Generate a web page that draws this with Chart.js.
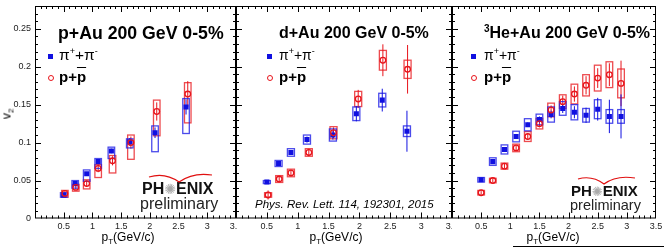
<!DOCTYPE html>
<html lang="en">
<head>
<meta charset="UTF-8">
<title>Identified hadron v2 in small systems</title>
<script src="https://cdn.jsdelivr.net/npm/chart.js@4"></script>
<style>
    body { margin: 0; background: #fff; font-family: "Liberation Sans", Arial, Helvetica, sans-serif; }
    #wrap { position: relative; width: 664px; height: 248px; overflow: hidden; background: #fff; }
    canvas { position: absolute; top: 0; }
    .txt { position: absolute; white-space: nowrap; line-height: 1; color: #000; }
    .title { font-weight: bold; font-size: 16px; top: 25px; }
    .leg1 { font-size: 14px; top: 48px; }
    .leg2 { font-size: 15px; font-weight: bold; top: 69px; }
    .sup { font-size: 9px; position: relative; top: -6px; }
    .sq { position: absolute; width: 5px; height: 5px; background: #1010e0; top: 54px; }
    .circ { position: absolute; width: 4px; height: 4px; border: 1.2px solid #e8141b; border-radius: 50%; top: 75px; }
    .bar { text-decoration: overline; }
    .phenix { font-weight: bold; font-size: 16px; color: #111; }
    .star { font-weight: normal; color: #aaa; font-size: 14px; font-family: "DejaVu Sans", sans-serif; }
    .prelim { font-size: 16px; color: #222; }
    .xtitle { font-size: 12px; top: 231px; transform: translateX(-50%); }
    .sub { font-size: 8px; position: relative; top: 3px; }
</style>
</head>
<body>
<div id="wrap">
    <canvas id="pAu" width="237" height="248" style="left:0"></canvas>
    <canvas id="dAu" width="216" height="248" style="left:236px"></canvas>
    <canvas id="heAu" width="212" height="248" style="left:452px"></canvas>

    <div class="txt" style="left:6px; top:114px; font-size:13px; transform:translate(-50%,-50%) rotate(-90deg);">v<span class="sub">2</span></div>

    <!-- p+Au -->
    <div class="txt title" style="left:58px; font-size:17.7px">p+Au 200 GeV 0-5%</div>
    <div class="sq" style="left:48px"></div>
    <div class="txt leg1" style="left:59px; font-size:15.5px; top:47px">&pi;<span class="sup">+</span>+&pi;<span class="sup">-</span></div>
    <div class="circ" style="left:48px"></div>
    <div class="txt leg2" style="left:59px">p+<span class="bar">p</span></div>
    <div class="txt phenix" style="left:142px; top:181px">PH<span class="star">&#x273A;</span>ENIX</div>
    <div class="txt prelim" style="left:140px; top:196px">preliminary</div>
    <div class="txt xtitle" style="left:128px">p<span class="sub">T</span>(GeV/c)</div>

    <!-- d+Au -->
    <div class="txt title" style="left:279px">d+Au 200 GeV 0-5%</div>
    <div class="sq" style="left:267px"></div>
    <div class="txt leg1" style="left:279px">&pi;<span class="sup">+</span>+&pi;<span class="sup">-</span></div>
    <div class="circ" style="left:267px"></div>
    <div class="txt leg2" style="left:279px">p+<span class="bar">p</span></div>
    <div class="txt" style="left:255px; top:199px; font-size:11.5px; font-style:italic;">Phys. Rev. Lett. 114, 192301, 2015</div>
    <div class="txt xtitle" style="left:336px">p<span class="sub">T</span>(GeV/c)</div>

    <!-- 3He+Au -->
    <div class="txt title" style="left:484px"><span class="sup" style="font-size:10px">3</span>He+Au 200 GeV 0-5%</div>
    <div class="sq" style="left:471px"></div>
    <div class="txt leg1" style="left:484px">&pi;<span class="sup">+</span>+&pi;<span class="sup">-</span></div>
    <div class="circ" style="left:471px"></div>
    <div class="txt leg2" style="left:484px">p+<span class="bar">p</span></div>
    <div class="txt phenix" style="left:571px; top:183px; font-size:15px">PH<span class="star" style="font-size:13px">&#x273A;</span>ENIX</div>
    <div class="txt prelim" style="left:570px; top:198px; font-size:14.5px">preliminary</div>
    <div class="txt xtitle" style="left:553px">p<span class="sub">T</span>(GeV/c)</div>

    <svg width="664" height="248" style="position:absolute; left:0; top:0; pointer-events:none">
        <path d="M149 177 Q165 172 179 182 Q193 172 212 175" fill="none" stroke="#e01010" stroke-width="1.2"/>
        <path d="M578 179 Q592 175 604 184 Q616 175 635 178" fill="none" stroke="#e01010" stroke-width="1.2"/>
        <line x1="513" y1="246.5" x2="664" y2="246.5" stroke="#000" stroke-width="1"/>
    </svg>
</div>

<script>
    // ---- values ----
    // p+Au 0-5%
    const pAuPionPt    = [0.50, 0.70, 0.90, 1.10, 1.33, 1.65, 2.09, 2.63];
    const pAuPionV2    = [0.031, 0.046, 0.059, 0.075, 0.089, 0.101, 0.113, 0.147];
    const pAuPionStat  = [0.002, 0.002, 0.002, 0.003, 0.003, 0.005, 0.007, 0.010];
    const pAuPionSysUp = [0.003, 0.004, 0.005, 0.004, 0.005, 0.004, 0.009, 0.011];
    const pAuPionSysDn = [0.003, 0.006, 0.010, 0.009, 0.010, 0.008, 0.025, 0.035];
    const pAuProtPt    = [0.52, 0.71, 0.90, 1.10, 1.35, 1.67, 2.12, 2.66];
    const pAuProtV2    = [0.033, 0.041, 0.046, 0.066, 0.076, 0.100, 0.141, 0.164];
    const pAuProtStat  = [0.003, 0.003, 0.004, 0.005, 0.006, 0.008, 0.012, 0.017];
    const pAuProtSysUp = [0.004, 0.004, 0.005, 0.005, 0.007, 0.010, 0.015, 0.015];
    const pAuProtSysDn = [0.005, 0.005, 0.007, 0.012, 0.016, 0.022, 0.032, 0.038];

    // d+Au 0-5%
    const dAuPionPt   = [0.50, 0.69, 0.89, 1.15, 1.57, 1.95, 2.37, 2.77];
    const dAuPionV2   = [0.048, 0.0725, 0.087, 0.104, 0.110, 0.138, 0.156, 0.115];
    const dAuPionStat = [0.001, 0.002, 0.003, 0.004, 0.006, 0.010, 0.015, 0.027];
    const dAuPionSys  = [0.002, 0.004, 0.005, 0.006, 0.008, 0.009, 0.009, 0.007];
    const dAuProtPt   = [0.52, 0.70, 0.89, 1.18, 1.58, 1.98, 2.38, 2.78];
    const dAuProtV2   = [0.031, 0.052, 0.060, 0.087, 0.113, 0.1575, 0.2085, 0.1966];
    const dAuProtStat = [0.006, 0.004, 0.004, 0.005, 0.007, 0.012, 0.021, 0.032];
    const dAuProtSys  = [0.003, 0.0045, 0.005, 0.005, 0.008, 0.010, 0.013, 0.012];

    // 3He+Au 0-5%
    const heAuPt       = [0.5, 0.7, 0.9, 1.1, 1.3, 1.5, 1.7, 1.9, 2.1, 2.3, 2.5, 2.7, 2.9];
    const heAuPionV2   = [0.051, 0.075, 0.091, 0.108, 0.1235, 0.1305, 0.137, 0.145, 0.140, 0.136, 0.144, 0.1345, 0.1345];
    const heAuPionStat = [0.001, 0.001, 0.002, 0.002, 0.003, 0.004, 0.005, 0.006, 0.008, 0.010, 0.015, 0.022, 0.029];
    const heAuPionSys  = [0.003, 0.005, 0.006, 0.007, 0.008, 0.007, 0.010, 0.009, 0.010, 0.009, 0.0125, 0.009, 0.009];
    const heAuProtV2   = [0.034, 0.050, 0.069, 0.093, 0.108, 0.125, 0.143, 0.154, 0.164, 0.1755, 0.185, 0.1895, 0.178];
    const heAuProtStat = [0.002, 0.002, 0.003, 0.003, 0.004, 0.005, 0.006, 0.008, 0.010, 0.012, 0.013, 0.015, 0.030];
    const heAuProtSys  = [0.003, 0.003, 0.004, 0.005, 0.0065, 0.007, 0.009, 0.009, 0.013, 0.014, 0.017, 0.017, 0.019];

    const FONT = '"Liberation Sans", Arial, Helvetica, sans-serif';
    const BLUE = '#1010e0';
    const RED = '#e8141b';
    const BLUE_BOX = 'rgba(30, 30, 230, 0.8)';
    const RED_BOX = 'rgba(232, 30, 35, 0.8)';
    const BOX_HALF = 0.057;  // half width of the systematic boxes, in GeV/c

    function points(pt, v2, stat, up, dn) {
        return pt.map((x, i) => ({ x: x, y: v2[i], stat: stat[i], up: up[i], dn: dn[i] }));
    }

    // systematic boxes + statistical bars, drawn under the markers
    const errorPlugin = {
        id: 'errors',
        beforeDatasetsDraw(chart) {
            const { ctx, scales: { x, y } } = chart;
            ctx.save();
            chart.data.datasets.forEach(ds => {
                ds.data.forEach(p => {
                    const px = x.getPixelForValue(p.x);
                    const hw = x.getPixelForValue(p.x + BOX_HALF) - px;
                    const top = y.getPixelForValue(p.y + p.up);
                    const bot = y.getPixelForValue(p.y - p.dn);
                    ctx.strokeStyle = ds.boxColor;
                    ctx.lineWidth = 1.3;
                    ctx.strokeRect(px - hw, top, hw * 2, bot - top);
                    ctx.strokeStyle = ds.pointBorderColor;
                    ctx.lineWidth = 1;
                    ctx.beginPath();
                    ctx.moveTo(px, y.getPixelForValue(p.y + p.stat));
                    ctx.lineTo(px, y.getPixelForValue(p.y - p.stat));
                    ctx.stroke();
                });
            });
            ctx.restore();
        }
    };

    // ROOT-like frame with ticks pointing inwards
    const framePlugin = {
        id: 'frame',
        afterDraw(chart) {
            const { ctx, chartArea: a, scales: { x, y } } = chart;
            ctx.save();
            ctx.strokeStyle = '#000';
            ctx.lineWidth = 1;
            ctx.strokeRect(a.left + 0.5, a.top + 0.5, a.right - a.left - 1, a.bottom - a.top - 1);
            ctx.beginPath();
            for (let i = 1; i < 35; i++) {
                const px = Math.round(x.getPixelForValue(i / 10)) + 0.5;
                const len = i % 5 === 0 ? 6 : 3;
                ctx.moveTo(px, a.bottom); ctx.lineTo(px, a.bottom - len);
                ctx.moveTo(px, a.top); ctx.lineTo(px, a.top + len);
            }
            for (let j = 1; j < 28; j++) {
                const py = Math.round(y.getPixelForValue(j / 100)) + 0.5;
                const len = j % 5 === 0 ? 6 : 3;
                ctx.moveTo(a.left, py); ctx.lineTo(a.left + len, py);
                ctx.moveTo(a.right, py); ctx.lineTo(a.right - len, py);
            }
            ctx.stroke();
            ctx.restore();
        }
    };

    function makePanel(id, pions, protons, showY, yWidth, padRight) {
        return new Chart(document.getElementById(id), {
            type: 'scatter',
            data: {
                datasets: [
                    {
                        label: 'p+pbar', data: protons, pointStyle: 'circle', pointRadius: 2.8,
                        pointBorderWidth: 1.3, pointBorderColor: RED, pointBackgroundColor: 'rgba(0,0,0,0)',
                        boxColor: RED_BOX
                    },
                    {
                        label: 'pi++pi-', data: pions, pointStyle: 'rect', pointRadius: 3.6,
                        pointBorderWidth: 0, pointBorderColor: BLUE, pointBackgroundColor: BLUE,
                        boxColor: BLUE_BOX
                    }
                ]
            },
            options: {
                responsive: false,
                animation: false,
                devicePixelRatio: 1,
                layout: { autoPadding: false, padding: { top: 6, right: padRight, left: 0, bottom: 0 } },
                plugins: { legend: { display: false }, tooltip: { enabled: false } },
                scales: {
                    x: {
                        type: 'linear', min: 0, max: 3.5,
                        grid: { display: false, drawTicks: false },
                        border: { display: false },
                        ticks: {
                            stepSize: 0.5, autoSkip: false, maxRotation: 0, padding: 3,
                            color: '#222', font: { size: 9, family: FONT },
                            callback: v => v === 0 ? '' : String(v)
                        },
                        afterFit: s => { s.height = 29.5; s.paddingLeft = 0; s.paddingRight = 0; }
                    },
                    y: {
                        type: 'linear', min: 0, max: 0.28,
                        grid: { display: false, drawTicks: false },
                        border: { display: false },
                        ticks: {
                            display: showY, stepSize: 0.05, includeBounds: false, padding: 4,
                            color: '#222', font: { size: 9, family: FONT },
                            callback: v => String(+v.toFixed(2))
                        },
                        afterFit: s => { s.width = yWidth; s.paddingTop = 0; s.paddingBottom = 0; }
                    }
                }
            },
            plugins: [errorPlugin, framePlugin]
        });
    }

    makePanel('pAu',
        points(pAuPionPt, pAuPionV2, pAuPionStat, pAuPionSysUp, pAuPionSysDn),
        points(pAuProtPt, pAuProtV2, pAuProtStat, pAuProtSysUp, pAuProtSysDn),
        true, 35, 1);
    makePanel('dAu',
        points(dAuPionPt, dAuPionV2, dAuPionStat, dAuPionSys, dAuPionSys),
        points(dAuProtPt, dAuProtV2, dAuProtStat, dAuProtSys, dAuProtSys),
        false, 0, 0);
    makePanel('heAu',
        points(heAuPt, heAuPionV2, heAuPionStat, heAuPionSys, heAuPionSys),
        points(heAuPt, heAuProtV2, heAuProtStat, heAuProtSys, heAuProtSys),
        false, 0, 8);
</script>
</body>
</html>
